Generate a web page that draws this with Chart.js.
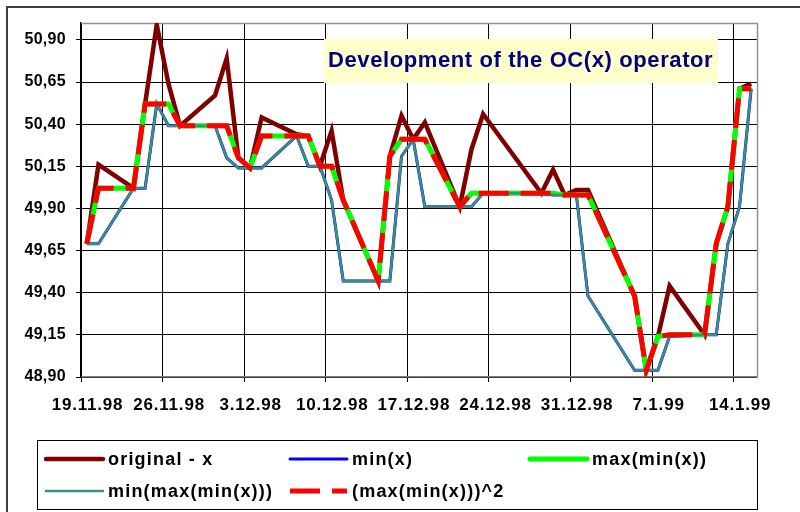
<!DOCTYPE html>
<html>
<head>
<meta charset="utf-8">
<script src="https://cdn.jsdelivr.net/npm/chart.js@4.4.1/dist/chart.umd.min.js"></script>
<style>
    html, body { margin: 0; padding: 0; background: #ffffff; }
    canvas { display: block; }
</style>
</head>
<body>
<canvas id="ocChart" width="800" height="512"></canvas>
<script>
(function () {
    "use strict";

    // trading days
    const dates = ['19.11.98', '20.11.98', '23.11.98', '24.11.98', '25.11.98', '26.11.98', '27.11.98',
        '30.11.98', '1.12.98', '2.12.98', '3.12.98', '4.12.98',
        '7.12.98', '8.12.98', '9.12.98', '10.12.98', '11.12.98',
        '14.12.98', '15.12.98', '16.12.98', '17.12.98', '18.12.98',
        '21.12.98', '22.12.98', '23.12.98',
        '28.12.98', '29.12.98', '30.12.98', '31.12.98', '1.1.99',
        '5.1.99', '6.1.99', '7.1.99', '8.1.99',
        '11.1.99', '12.1.99', '13.1.99', '14.1.99', '15.1.99'];

    const originalX = [49.69, 50.16, 50.02, 50.52, 50.99, 50.64, 50.39,
        50.57, 50.79, 50.20, 50.14, 50.44,
        50.34, 50.33, 50.15, 50.36, 49.95,
        49.47, 50.21, 50.45, 50.31, 50.41,
        49.91, 50.25, 50.46,
        49.99, 50.13, 49.98, 50.01, 50.01,
        49.38, 48.94, 49.14, 49.44,
        49.15, 49.69, 49.91, 50.61, 50.64];

    const minX = [49.69, 49.69, 50.02, 50.02, 50.52, 50.39, 50.39,
        50.39, 50.20, 50.14, 50.14, 50.14,
        50.33, 50.15, 50.15, 49.95, 49.47,
        49.47, 49.47, 50.21, 50.31, 49.91,
        49.91, 49.91, 49.99,
        49.99, 49.98, 49.98, 49.98, 49.38,
        48.94, 48.94, 48.94, 49.14,
        49.15, 49.15, 49.69, 49.91, 50.61];

    const maxMinX = [49.69, 50.02, 50.02, 50.52, 50.52, 50.52, 50.39,
        50.39, 50.39, 50.20, 50.14, 50.33,
        50.33, 50.33, 50.15, 50.15, 49.95,
        49.47, 50.21, 50.31, 50.31, 50.31,
        49.91, 49.99, 49.99,
        49.99, 49.99, 49.98, 49.98, 49.98,
        49.38, 48.94, 49.14, 49.15,
        49.15, 49.69, 49.91, 50.61, 50.61];

    const minMaxMinX = [49.69, 49.69, 50.02, 50.02, 50.52, 50.39, 50.39,
        50.39, 50.20, 50.14, 50.14, 50.14,
        50.33, 50.15, 50.15, 49.95, 49.47,
        49.47, 49.47, 50.21, 50.31, 49.91,
        49.91, 49.91, 49.99,
        49.99, 49.98, 49.98, 49.98, 49.38,
        48.94, 48.94, 48.94, 49.14,
        49.15, 49.15, 49.69, 49.91, 50.61];

    const maxMinXSq = [49.69, 50.02, 50.02, 50.52, 50.52, 50.52, 50.39,
        50.39, 50.39, 50.20, 50.14, 50.33,
        50.33, 50.33, 50.15, 50.15, 49.95,
        49.47, 50.21, 50.31, 50.31, 50.31,
        49.91, 49.99, 49.99,
        49.99, 49.99, 49.98, 49.98, 49.98,
        49.38, 48.94, 49.14, 49.15,
        49.15, 49.69, 49.91, 50.61, 50.61];

    const xTickLabels = ['19.11.98', '26.11.98', '3.12.98', '10.12.98', '17.12.98', '24.12.98', '31.12.98', '7.1.99', '14.1.99'];
    const yTicks = [48.90, 49.15, 49.40, 49.65, 49.90, 50.15, 50.40, 50.65, 50.90];

    const FONT = '"Liberation Sans", Arial, sans-serif';

    // days since 19.11.98
    function dayOf(label) {
        let p = label.split('.').map(Number);
        let year = p[2] < 50 ? 2000 + p[2] : 1900 + p[2];
        return (Date.UTC(year, p[1] - 1, p[0]) - Date.UTC(1998, 10, 19)) / 86400000;
    }

    const xTickDays = xTickLabels.map(dayOf);

    function series(values) {
        // points sit in the middle of their day slot
        return dates.map((d, i) => ({ x: dayOf(d) + 0.5, y: values[i] }));
    }

    // excel spreads its bold labels a little
    function spaced(scale, spacing) {
        if (scale._spaced) return;
        let orig = scale.drawLabels;
        scale.drawLabels = function () {
            let c = this.ctx;
            c.save();
            c.letterSpacing = spacing;
            orig.apply(this, arguments);
            c.restore();
        };
        scale._spaced = true;
    }

    const decor = {
        id: 'decor',
        beforeDraw(chart) {
            spaced(chart.scales.x, '0.8px');
            spaced(chart.scales.y, '0.3px');
            let c = chart.ctx;
            c.save();
            c.strokeStyle = '#404040';
            c.lineWidth = 2;
            c.beginPath();
            c.moveTo(7, 512);
            c.lineTo(7, 7);
            c.lineTo(800, 7);
            c.stroke();
            c.restore();
        },
        beforeDatasetsDraw(chart) {
            let c = chart.ctx;
            let a = chart.chartArea;
            c.save();
            c.strokeStyle = '#909090';
            c.lineWidth = 1.5;
            c.beginPath();
            c.moveTo(a.left, a.top + 0.5);
            c.lineTo(a.right + 0.5, a.top + 0.5);
            c.lineTo(a.right + 0.5, a.bottom);
            c.stroke();
            c.restore();
        },
        afterDraw(chart) {
            let c = chart.ctx;
            c.save();

            // title box
            c.fillStyle = '#FFFFCC';
            c.fillRect(324, 39, 394, 44);
            c.letterSpacing = '0.6px';
            c.font = 'bold 22px ' + FONT;
            c.fillStyle = '#000080';
            c.textBaseline = 'middle';
            c.textAlign = 'left';
            c.fillText('Development of the OC(x) operator', 328, 61);

            // legend box
            c.strokeStyle = '#000000';
            c.lineWidth = 1;
            c.strokeRect(37.5, 440.5, 720, 69);

            let slots = [[44, 459], [288, 459], [528, 459], [44, 491], [288, 491]];
            c.letterSpacing = '1.2px';
            c.font = 'bold 18px ' + FONT;
            chart.data.datasets.forEach((ds, i) => {
                let s = slots[i];
                c.strokeStyle = ds.borderColor;
                c.lineWidth = ds.borderWidth;
                c.setLineDash(ds.borderDash || []);
                c.lineCap = ds.borderDash ? 'butt' : 'round';
                c.beginPath();
                c.moveTo(s[0] + 2, s[1]);
                c.lineTo(s[0] + 59, s[1]);
                c.stroke();
                c.fillStyle = '#000000';
                c.fillText(ds.label, s[0] + 64, s[1] + 1);
            });
            c.restore();
        }
    };

    let ctx = document.getElementById('ocChart').getContext('2d');

    let chart = new Chart(ctx, {
        type: 'line',
        data: {
            datasets: [
                {
                    label: 'original - x',
                    data: series(originalX),
                    borderColor: '#800000',
                    borderWidth: 4.5,
                    order: 5
                },
                {
                    label: 'min(x)',
                    data: series(minX),
                    borderColor: '#0000FF',
                    borderWidth: 3,
                    order: 4
                },
                {
                    label: 'max(min(x))',
                    data: series(maxMinX),
                    borderColor: '#00FF00',
                    borderWidth: 5,
                    order: 3
                },
                {
                    label: 'min(max(min(x)))',
                    data: series(minMaxMinX),
                    borderColor: '#3A9080',
                    borderWidth: 2.5,
                    order: 2
                },
                {
                    label: '(max(min(x)))^2',
                    data: series(maxMinXSq),
                    borderColor: '#FF0000',
                    borderWidth: 5,
                    borderDash: [30, 12],
                    order: 1
                }
            ]
        },
        options: {
            responsive: false,
            animation: false,
            devicePixelRatio: 1,
            layout: {
                padding: { top: 23, right: 43, left: 0, bottom: 0 }
            },
            elements: {
                point: { radius: 0, hoverRadius: 0 },
                line: { tension: 0, fill: false }
            },
            plugins: {
                legend: { display: false },
                tooltip: { enabled: false }
            },
            scales: {
                x: {
                    type: 'linear',
                    min: 0,
                    max: 58,
                    afterBuildTicks: (scale) => {
                        scale.ticks = xTickDays.map(v => ({ value: v }));
                    },
                    afterFit: (scale) => {
                        scale.height = 135;
                    },
                    grid: { color: '#000000', lineWidth: 1, tickLength: 5 },
                    border: { color: '#808080', width: 1.5 },
                    ticks: {
                        autoSkip: false,
                        maxRotation: 0,
                        padding: 13,
                        labelOffset: 6.5,
                        color: '#000000',
                        font: { family: FONT, size: 17, weight: 'bold' },
                        callback: (value) => xTickLabels[xTickDays.indexOf(value)]
                    }
                },
                y: {
                    min: 48.90,
                    max: 51.0,
                    afterBuildTicks: (scale) => {
                        scale.ticks = yTicks.map(v => ({ value: v }));
                    },
                    afterFit: (scale) => {
                        scale.width = 81;
                    },
                    grid: { color: '#000000', lineWidth: 1, tickLength: 5 },
                    border: { color: '#000000', width: 1.5 },
                    ticks: {
                        padding: 10,
                        color: '#000000',
                        font: { family: FONT, size: 16, weight: 'bold' },
                        callback: (value) => value.toFixed(2).replace('.', ',')
                    }
                }
            }
        },
        plugins: [decor]
    });
})();
</script>
</body>
</html>
